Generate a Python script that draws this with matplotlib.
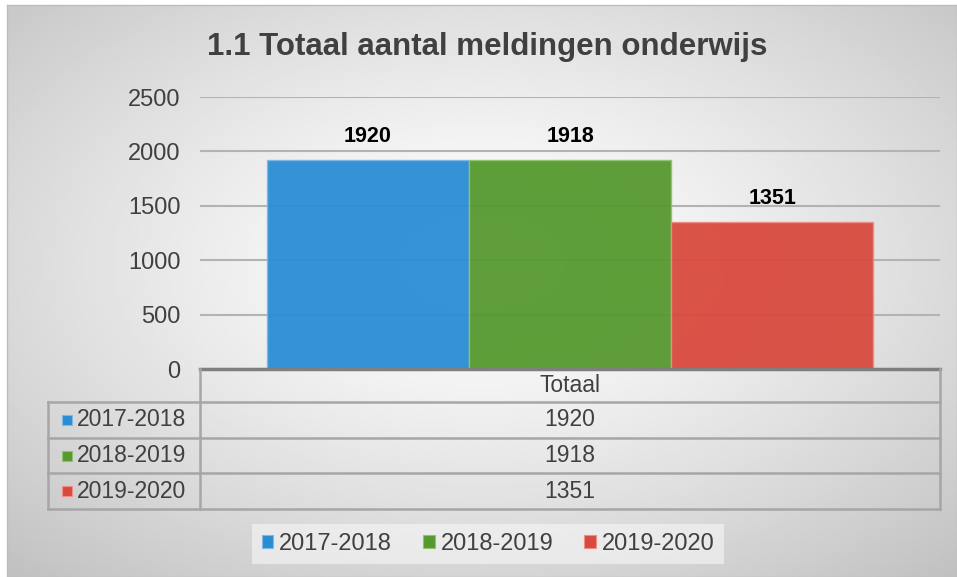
import numpy as np
import matplotlib
matplotlib.use("Agg")
import matplotlib.pyplot as plt
from matplotlib.lines import Line2D
from matplotlib.patches import Patch

# data
category = "Totaal"
years = ["2017-2018", "2018-2019", "2019-2020"]
values = [1920, 1918, 1351]
colors = ["#2a8dd4", "#56992f", "#d94a3e"]
edge_colors = ["#7cb9e6", "#8fc46c", "#ee8f87"]
yticks = [0, 500, 1000, 1500, 2000, 2500]
title = "1.1 Totaal aantal meldingen onderwijs"

W, H = 957, 577
plt.rcParams["font.family"] = ["Liberation Sans", "DejaVu Sans"]
text_color = "#404040"
line_color = "#a6a6a6"


def fx(x):
    return x / W


def fy(y):
    return 1 - y / H


fig = plt.figure(figsize=(W / 100, H / 100), dpi=100)
fig.patch.set_facecolor("white")

# radial gradient background
bg = fig.add_axes([fx(7), 0, fx(W - 7), 1 - 5 / H], zorder=-10)
gx, gy = np.meshgrid(np.linspace(-1, 1, 400), np.linspace(-1, 1, 240))
gy = gy + 0.1
r = np.sqrt(gx ** 2 + gy ** 2) / np.sqrt(2)
g = 1 - 0.23 * np.clip(r, 0, 1.2) ** 1.3
bg.imshow(g, cmap="gray", vmin=0, vmax=1, aspect="auto", interpolation="bilinear")
bg.set_xticks([])
bg.set_yticks([])
for s in bg.spines.values():
    s.set_color("#bdbdbd")
    s.set_linewidth(1)

# main axes
ax = fig.add_axes([fx(200), fy(369), fx(940) - fx(200), fy(97) - fy(369)])
ax.patch.set_alpha(0)
bar_w = 1.0
xpos = np.arange(len(years)) * bar_w
for i, (yr, v) in enumerate(zip(years, values)):
    ax.bar(xpos[i], v, width=bar_w, color=colors[i], edgecolor=edge_colors[i],
           linewidth=1.0, alpha=0.95, zorder=2)
    ax.annotate(str(v), (xpos[i], v), xytext=(0, 17), textcoords="offset points",
                ha="center", va="center", fontsize=15.5, fontweight="bold", color="black")

ax.set_xlim(xpos.mean() - 1.83, xpos.mean() + 1.83)
ax.set_ylim(0, 2500)
ax.set_yticks(yticks)
ax.set_xticks([])
ax.tick_params(axis="y", length=0, pad=14, labelsize=17, labelcolor=text_color)
ax.grid(axis="y", color="#b3b3b3", linewidth=1.5, zorder=1)
ax.set_axisbelow(True)
for name in ["top", "right", "left"]:
    ax.spines[name].set_visible(False)
ax.spines["bottom"].set_color("#7f7f7f")
ax.spines["bottom"].set_linewidth(2.5)

# data table below the axes
row_edges = [369, 402, 438, 473, 509]
col_left, col_mid, col_right = 48, 200, 940


def hline(y, x0, x1):
    fig.add_artist(Line2D([fx(x0), fx(x1)], [fy(y), fy(y)], color=line_color, lw=1.8))


def vline(x, y0, y1):
    fig.add_artist(Line2D([fx(x), fx(x)], [fy(y0), fy(y1)], color=line_color, lw=1.8))


for y in row_edges[1:]:
    hline(y, col_left, col_right)
vline(col_left, row_edges[1], row_edges[-1])
vline(col_mid, row_edges[0], row_edges[-1])
vline(col_right, row_edges[0], row_edges[-1])

fig.text(fx((col_mid + col_right) / 2), fy((row_edges[0] + row_edges[1]) / 2), category,
         ha="center", va="center", fontsize=16.5, color=text_color)
for i, (yr, v) in enumerate(zip(years, values)):
    yc = fy((row_edges[i + 1] + row_edges[i + 2]) / 2)
    fig.text(fx((col_mid + col_right) / 2), yc, str(v), ha="center", va="center",
             fontsize=16.5, color=text_color)
    fig.patches.append(plt.Rectangle((fx(62), yc - 5 / H), 10 / W, 10 / H,
                                     transform=fig.transFigure, figure=fig,
                                     facecolor=colors[i], edgecolor=edge_colors[i], lw=0.8))
    fig.text(fx(77), yc, yr, ha="left", va="center", fontsize=16.5, color=text_color)

# legend
handles = [Patch(facecolor=c, edgecolor=e, linewidth=0.8) for c, e in zip(colors, edge_colors)]
leg = fig.legend(handles, years, loc="center", bbox_to_anchor=(fx(488), fy(544)), ncol=3,
                 fontsize=17, frameon=True, handlelength=0.5, handleheight=0.5,
                 handletextpad=0.25, columnspacing=1.3, borderpad=0.4)
leg.get_frame().set_facecolor("#f7f7f7")
leg.get_frame().set_alpha(0.6)
leg.get_frame().set_edgecolor("none")
leg.get_frame().set_boxstyle("square", pad=0)
for t in leg.get_texts():
    t.set_color(text_color)

fig.text(fx(487), fy(47), title, ha="center", va="center", fontsize=22.5,
         fontweight="bold", color=text_color)

fig.savefig("out.png", dpi=100)
